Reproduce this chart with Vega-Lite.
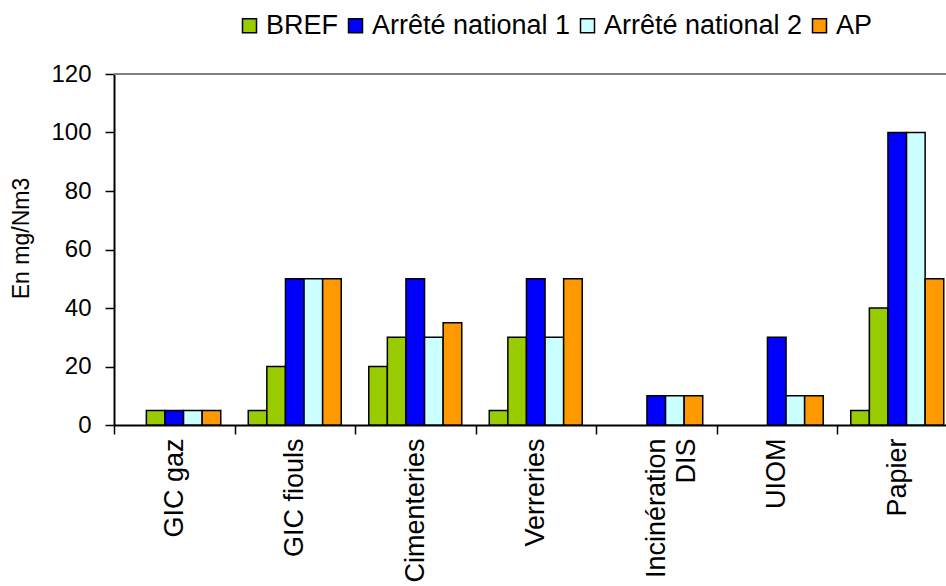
{
  "$schema": "https://vega.github.io/schema/vega-lite/v6.json",
  "width": 832,
  "height": 351,
  "autosize": {"type": "none"},
  "padding": {"left": 114, "top": 74, "right": 0, "bottom": 161},
  "background": "white",
  "config": {
    "view": {"stroke": null},
    "font": "Liberation Sans"
  },
  "datasets": {
    "emissions": [
      {"secteur": "GIC gaz", "serie": "BREF max", "legende": "BREF", "valeur": 5},
      {"secteur": "GIC gaz", "serie": "Arrêté national 1", "legende": "Arrêté national 1", "valeur": 5},
      {"secteur": "GIC gaz", "serie": "Arrêté national 2", "legende": "Arrêté national 2", "valeur": 5},
      {"secteur": "GIC gaz", "serie": "AP", "legende": "AP", "valeur": 5},
      {"secteur": "GIC fiouls", "serie": "BREF min", "legende": "BREF", "valeur": 5},
      {"secteur": "GIC fiouls", "serie": "BREF max", "legende": "BREF", "valeur": 20},
      {"secteur": "GIC fiouls", "serie": "Arrêté national 1", "legende": "Arrêté national 1", "valeur": 50},
      {"secteur": "GIC fiouls", "serie": "Arrêté national 2", "legende": "Arrêté national 2", "valeur": 50},
      {"secteur": "GIC fiouls", "serie": "AP", "legende": "AP", "valeur": 50},
      {"secteur": "Cimenteries", "serie": "BREF min", "legende": "BREF", "valeur": 20},
      {"secteur": "Cimenteries", "serie": "BREF max", "legende": "BREF", "valeur": 30},
      {"secteur": "Cimenteries", "serie": "Arrêté national 1", "legende": "Arrêté national 1", "valeur": 50},
      {"secteur": "Cimenteries", "serie": "Arrêté national 2", "legende": "Arrêté national 2", "valeur": 30},
      {"secteur": "Cimenteries", "serie": "AP", "legende": "AP", "valeur": 35},
      {"secteur": "Verreries", "serie": "BREF min", "legende": "BREF", "valeur": 5},
      {"secteur": "Verreries", "serie": "BREF max", "legende": "BREF", "valeur": 30},
      {"secteur": "Verreries", "serie": "Arrêté national 1", "legende": "Arrêté national 1", "valeur": 50},
      {"secteur": "Verreries", "serie": "Arrêté national 2", "legende": "Arrêté national 2", "valeur": 30},
      {"secteur": "Verreries", "serie": "AP", "legende": "AP", "valeur": 50},
      {"secteur": "Incinération DIS", "serie": "Arrêté national 1", "legende": "Arrêté national 1", "valeur": 10},
      {"secteur": "Incinération DIS", "serie": "Arrêté national 2", "legende": "Arrêté national 2", "valeur": 10},
      {"secteur": "Incinération DIS", "serie": "AP", "legende": "AP", "valeur": 10},
      {"secteur": "UIOM", "serie": "Arrêté national 1", "legende": "Arrêté national 1", "valeur": 30},
      {"secteur": "UIOM", "serie": "Arrêté national 2", "legende": "Arrêté national 2", "valeur": 10},
      {"secteur": "UIOM", "serie": "AP", "legende": "AP", "valeur": 10},
      {"secteur": "Papier", "serie": "BREF min", "legende": "BREF", "valeur": 5},
      {"secteur": "Papier", "serie": "BREF max", "legende": "BREF", "valeur": 40},
      {"secteur": "Papier", "serie": "Arrêté national 1", "legende": "Arrêté national 1", "valeur": 100},
      {"secteur": "Papier", "serie": "Arrêté national 2", "legende": "Arrêté national 2", "valeur": 100},
      {"secteur": "Papier", "serie": "AP", "legende": "AP", "valeur": 50}
    ],
    "cadre": [{"haut": 120}]
  },
  "layer": [
    {
      "data": {"name": "cadre"},
      "mark": {"type": "rule", "color": "#808080", "strokeWidth": 2},
      "encoding": {
        "y": {"field": "haut", "type": "quantitative"}
      }
    },
    {
      "data": {"name": "emissions"},
      "mark": {"type": "bar", "stroke": "black", "strokeWidth": 1.5, "clip": true},
      "encoding": {
        "x": {
          "field": "secteur",
          "type": "nominal",
          "sort": ["GIC gaz", "GIC fiouls", "Cimenteries", "Verreries", "Incinération DIS", "UIOM", "Papier"],
          "scale": {"range": [0, 843.5], "paddingInner": 0, "paddingOuter": 0},
          "axis": {
            "title": null,
            "labelAngle": -90,
            "labelFontSize": 27,
            "labelColor": "black",
            "labelPadding": 4,
            "labelExpr": "datum.label == 'Incinération DIS' ? ['Incinération', 'DIS'] : datum.label",
            "labelLineHeight": 30,
            "tickBand": "extent",
            "tickSize": 9,
            "tickColor": "black",
            "tickWidth": 1.5,
            "domainColor": "black",
            "domainWidth": 2,
            "labelLimit": 300
          }
        },
        "xOffset": {
          "field": "serie",
          "type": "nominal",
          "sort": ["BREF min", "BREF max", "Arrêté national 1", "Arrêté national 2", "AP"],
          "scale": {"domain": ["BREF min", "BREF max", "Arrêté national 1", "Arrêté national 2", "AP"], "paddingInner": 0, "paddingOuter": 0.74}
        },
        "y": {
          "field": "valeur",
          "type": "quantitative",
          "scale": {"domain": [0, 120], "nice": false},
          "axis": {
            "title": "En mg/Nm3",
            "titleFontSize": 23,
            "titleFontWeight": "normal",
            "titleColor": "black",
            "titlePadding": 17,
            "titleY": 164,
            "values": [0, 20, 40, 60, 80, 100, 120],
            "labelFontSize": 24,
            "labelColor": "black",
            "labelPadding": 14,
            "tickSize": 9,
            "tickColor": "black",
            "tickWidth": 1.5,
            "domainColor": "black",
            "domainWidth": 2,
            "grid": false
          }
        },
        "color": {
          "field": "legende",
          "type": "nominal",
          "scale": {
            "domain": ["BREF", "Arrêté national 1", "Arrêté national 2", "AP"],
            "range": ["#99CC00", "#0000FF", "#CCFFFF", "#FF9900"]
          },
          "legend": {
            "title": null,
            "orient": "none",
            "direction": "horizontal",
            "legendX": 122,
            "legendY": -62,
            "symbolType": "square",
            "symbolSize": 196,
            "symbolStrokeColor": "black",
            "symbolStrokeWidth": 1.5,
            "symbolOpacity": 1,
            "labelFontSize": 27,
            "labelColor": "black",
            "labelOffset": 3,
            "labelLimit": 400,
            "columnPadding": 3
          }
        }
      }
    }
  ]
}
